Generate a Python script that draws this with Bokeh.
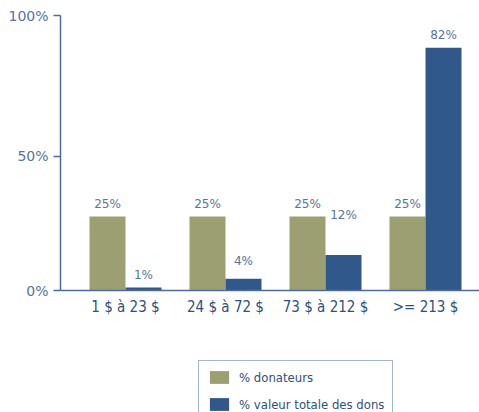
from bokeh.plotting import figure
from bokeh.models import ColumnDataSource, FixedTicker, Legend, LegendItem
from bokeh.embed import file_html
from bokeh.resources import INLINE
from bokeh.core.properties import value

categories = ["1 $ à 23 $", "24 $ à 72 $", "73 $ à 212 $", ">= 213 $"]
donateurs = [25, 25, 25, 25]
valeur_totale = [1, 4, 12, 82]
y_tick_labels = ["0%", "50%", "100%"]

# style: label lifts (px) for the blue-bar labels as placed in the reference
blue_label_lift = [0, 5, 27, 0]

GREEN = "#9c9f72"
BLUE = "#30588a"
AXIS = "#4c6c9c"
TICKTXT = "#5673a0"
CATTXT = "#2e4f80"
COND = "DejaVu Sans Condensed"

xs = list(range(1, len(categories) + 1))
bw = 0.36
BASE_OFF = -13
src_g = ColumnDataSource(dict(x=[x - bw / 2 for x in xs], top=donateurs,
                              lab=[f"{v}%" for v in donateurs],
                              off=[BASE_OFF] * len(xs)))
src_b = ColumnDataSource(dict(x=[x + bw / 2 for x in xs], top=valeur_totale,
                              lab=[f"{v}%" for v in valeur_totale],
                              off=[BASE_OFF - l for l in blue_label_lift]))

YTOP = 92.9
p = figure(width=479, height=412, output_backend="svg", toolbar_location=None,
           x_range=(0.35, 4.54), y_range=(-41.2, YTOP),
           min_border_left=60, min_border_right=0, min_border_top=15,
           min_border_bottom=0)
p.outline_line_color = None
p.grid.visible = False
p.background_fill_color = "white"

r_g = p.vbar(x="x", top="top", width=bw, bottom=0, source=src_g,
             fill_color=GREEN, line_color=None)
r_b = p.vbar(x="x", top="top", width=bw, bottom=0, source=src_b,
             fill_color=BLUE, line_color=None)

for src in (src_g, src_b):
    p.text(x="x", y="top", text="lab", source=src, y_offset="off",
           text_align="center", text_baseline="alphabetic",
           text_font=value("DejaVu Sans"), text_font_size="12px",
           text_color=TICKTXT)

# y axis: ticks drawn where the reference puts its labels
y_tick_pos = [0, 45.4, YTOP]
p.yaxis.ticker = FixedTicker(ticks=y_tick_pos)
p.yaxis.bounds = (0, YTOP)
p.yaxis.major_label_overrides = {t: l for t, l in zip(y_tick_pos, y_tick_labels)}
p.yaxis.axis_line_color = AXIS
p.yaxis.axis_line_width = 1.5
p.yaxis.major_tick_line_color = AXIS
p.yaxis.major_tick_line_width = 1.5
p.yaxis.major_tick_out = 7
p.yaxis.major_tick_in = 0
p.yaxis.minor_tick_line_color = None
p.yaxis.major_label_standoff = 5
p.yaxis.major_label_text_font = "DejaVu Sans"
p.yaxis.major_label_text_font_size = "14px"
p.yaxis.major_label_text_color = TICKTXT

p.xaxis.fixed_location = 0
p.xaxis.ticker = FixedTicker(ticks=xs)
p.xaxis.major_label_overrides = {x: c for x, c in zip(xs, categories)}
p.xaxis.axis_line_color = AXIS
p.xaxis.axis_line_width = 1.5
p.xaxis.major_tick_line_color = None
p.xaxis.major_tick_out = 0
p.xaxis.major_tick_in = 0
p.xaxis.minor_tick_line_color = None
p.xaxis.major_label_standoff = 7
p.xaxis.major_label_text_font = COND
p.xaxis.major_label_text_font_size = "15px"
p.xaxis.major_label_text_color = CATTXT

legend = Legend(items=[LegendItem(label="% donateurs", renderers=[r_g]),
                       LegendItem(label="% valeur totale des dons", renderers=[r_b])],
                location=(138, -9), orientation="vertical")
legend.glyph_width = 24
legend.glyph_height = 16
legend.label_height = 16
legend.spacing = 11
legend.padding = 8
legend.margin = 0
legend.label_standoff = 8
legend.label_text_font = COND
legend.label_text_font_size = "13px"
legend.label_text_color = CATTXT
legend.label_text_baseline = "middle"
legend.border_line_color = AXIS
legend.border_line_width = 1.5
legend.background_fill_color = "white"
legend.background_fill_alpha = 1
p.add_layout(legend, "center")

open("out.html", "w").write(file_html(p, INLINE))
